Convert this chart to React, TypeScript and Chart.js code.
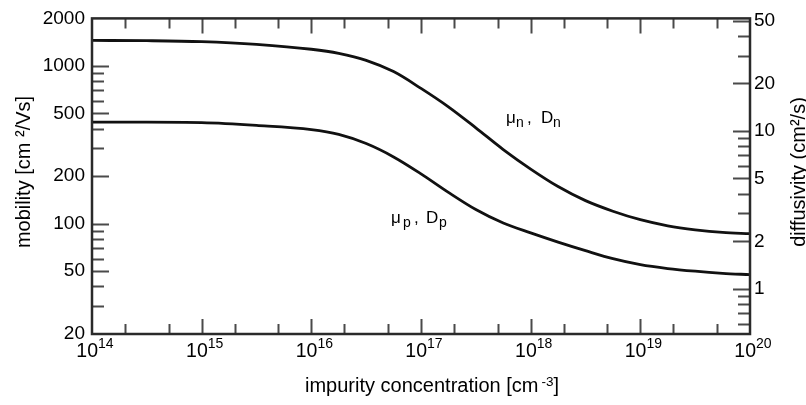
import React, { useEffect, useRef } from "react";
import { Chart, registerables } from "chart.js";

Chart.register(...registerables);

// ---- data ----
const concentrationExponents = [14, 14.5, 15, 15.5, 16, 16.25, 16.5, 16.75, 17, 17.25, 17.5, 17.75, 18, 18.25, 18.5, 18.75, 19, 19.25, 19.5, 19.75, 20];
const electronMobility = [1450, 1445, 1425, 1370, 1275, 1200, 1085, 920, 720, 550, 405, 295, 222, 172, 140, 120, 106, 97, 91.5, 88, 86.5];
const holeMobility = [440, 440, 437, 420, 395, 368, 322, 265, 207, 158, 123, 101, 87.5, 76.5, 67.5, 60, 55, 52, 50, 48.5, 47.5];

const xLabelExponents = [14, 15, 16, 17, 18, 19, 20];
const mobilityTickLabels = [20, 50, 100, 200, 500, 1000, 2000];
const diffusivityTickLabels = [1, 2, 5, 10, 20, 50];
const mobilityMin = 20;
const mobilityMax = 2000;
const thermalVoltage = 0.02585; // kT/q in V, D = mu * kT/q

const FONT = '"Liberation Sans", Arial, Helvetica, sans-serif';

function logTickValues(min: number, max: number) {
  const out: { v: number; major: boolean }[] = [];
  for (let k = Math.floor(Math.log10(min)) - 1; k <= Math.ceil(Math.log10(max)); k++) {
    for (let m = 1; m <= 9; m++) {
      const v = m * Math.pow(10, k);
      if (v >= min * 1.0001 && v <= max * 0.9999) out.push({ v, major: m === 1 || m === 2 || m === 5 });
    }
  }
  return out;
}

const framePlugin = {
  id: "frameAndLabels",
  afterDraw(chart: any) {
    const { ctx, chartArea } = chart;
    const { left, right, top, bottom } = chartArea;
    const xs = chart.scales.x;
    const ys = chart.scales.y;
    const y2 = chart.scales.y2;
    ctx.save();

    // ticks
    ctx.strokeStyle = "#4a4a4a";
    ctx.lineWidth = 2;
    ctx.beginPath();
    for (const t of logTickValues(ys.min, ys.max)) {
      const py = Math.round(ys.getPixelForValue(t.v)) + 0.5;
      const len = t.major ? 17 : 12;
      ctx.moveTo(left, py);
      ctx.lineTo(left + len, py);
    }
    for (const t of logTickValues(y2.min, y2.max)) {
      const py = Math.round(y2.getPixelForValue(t.v)) + 0.5;
      const len = t.major ? 17 : 12;
      ctx.moveTo(right, py);
      ctx.lineTo(right - len, py);
    }
    for (let e = 14; e <= 20; e++) {
      for (const m of [1, 2, 5]) {
        const v = m * Math.pow(10, e);
        if (v <= xs.min || v >= xs.max) continue;
        const px = Math.round(xs.getPixelForValue(v)) + 0.5;
        const len = m === 1 ? 15 : 10;
        ctx.moveTo(px, top);
        ctx.lineTo(px, top + len);
        ctx.moveTo(px, bottom);
        ctx.lineTo(px, bottom - len);
      }
    }
    ctx.stroke();

    // frame
    ctx.strokeStyle = "#2a2a2a";
    ctx.lineWidth = 2.5;
    ctx.strokeRect(left, top, right - left, bottom - top);

    // x tick labels 10^n
    ctx.fillStyle = "#000";
    ctx.textBaseline = "alphabetic";
    ctx.textAlign = "left";
    const baseFont = `19.5px ${FONT}`;
    const supFont = `14px ${FONT}`;
    for (const e of xLabelExponents) {
      const px = xs.getPixelForValue(Math.pow(10, e));
      ctx.font = baseFont;
      const wb = ctx.measureText("10").width;
      ctx.font = supFont;
      const ws = ctx.measureText(String(e)).width;
      const start = px + 3 - (wb + ws) / 2;
      ctx.font = baseFont;
      ctx.fillText("10", start, 357);
      ctx.font = supFont;
      ctx.fillText(String(e), start + wb, 348);
    }

    // x title with superscript
    {
      const main = "impurity concentration [cm";
      const sup = "-3";
      const titleFont = `20px ${FONT}`;
      ctx.font = titleFont;
      const wm = ctx.measureText(main).width;
      const wc = ctx.measureText("]").width;
      ctx.font = `13.5px ${FONT}`;
      const wsup = ctx.measureText(sup).width;
      const gap = 3;
      const total = wm + gap + wsup + wc;
      const start = 432 - total / 2;
      ctx.font = titleFont;
      ctx.fillText(main, start, 392);
      ctx.font = `13.5px ${FONT}`;
      ctx.fillText(sup, start + wm + gap, 386);
      ctx.font = titleFont;
      ctx.fillText("]", start + wm + gap + wsup, 392);
    }

    // y titles (rotated)
    ctx.font = `20px ${FONT}`;
    ctx.textAlign = "center";
    ctx.save();
    ctx.translate(30, 172);
    ctx.rotate(-Math.PI / 2);
    ctx.fillText("mobility [cm \u00B2/Vs]", 0, 0);
    ctx.restore();
    ctx.save();
    ctx.translate(805, 172);
    ctx.rotate(-Math.PI / 2);
    ctx.fillText("diffusivity (cm\u00B2/s)", 0, 0);
    ctx.restore();

    // curve annotations
    ctx.textAlign = "left";
    const drawLabel = (base: number, sub: string, pos: number[]) => {
      ctx.font = `17px ${FONT}`;
      ctx.fillText("\u03BC", pos[0], base);
      ctx.font = `14px ${FONT}`;
      ctx.fillText(sub, pos[1], base + 4);
      ctx.font = `17px ${FONT}`;
      ctx.fillText(",", pos[2], base);
      ctx.fillText("D", pos[3], base);
      ctx.font = `14px ${FONT}`;
      ctx.fillText(sub, pos[4], base + 4);
    };
    drawLabel(123, "n", [506, 516, 527, 541, 553]);
    drawLabel(223, "p", [391, 403, 414, 426, 439]);

    ctx.restore();
  },
};

export default function App() {
  const canvasRef = useRef<HTMLCanvasElement>(null);

  useEffect(() => {
    const canvas = canvasRef.current;
    if (!canvas) return;
    const toPoints = (vals: number[]) => concentrationExponents.map((e, i) => ({ x: Math.pow(10, e), y: vals[i] }));
    const chart = new Chart(canvas, {
      type: "line",
      data: {
        datasets: [
          {
            label: "\u03BCn, Dn",
            data: toPoints(electronMobility),
            borderColor: "#111",
            borderWidth: 2.8,
            pointRadius: 0,
            cubicInterpolationMode: "monotone",
            yAxisID: "y",
          },
          {
            label: "\u03BCp, Dp",
            data: toPoints(holeMobility),
            borderColor: "#111",
            borderWidth: 2.8,
            pointRadius: 0,
            cubicInterpolationMode: "monotone",
            yAxisID: "y",
          },
        ],
      },
      options: {
        animation: false,
        responsive: true,
        maintainAspectRatio: false,
        layout: { padding: { top: 14, left: 0, right: 0, bottom: 0 } },
        plugins: { legend: { display: false }, tooltip: { enabled: false } },
        scales: {
          x: {
            type: "logarithmic",
            min: 1e14,
            max: 1e20,
            grid: { display: false, drawTicks: false },
            border: { display: false },
            ticks: { display: false },
            afterFit: (s: any) => {
              s.height = 71;
            },
          },
          y: {
            type: "logarithmic",
            position: "left",
            min: mobilityMin,
            max: mobilityMax,
            grid: { display: false, drawTicks: false },
            border: { display: false },
            afterBuildTicks: (s: any) => {
              s.ticks = mobilityTickLabels.map((v) => ({ value: v }));
            },
            ticks: {
              autoSkip: false,
              padding: 7,
              color: "#000",
              font: { family: FONT, size: 19 },
              callback: (v: any) => String(v),
            },
            afterFit: (s: any) => {
              s.width = 92;
            },
          },
          y2: {
            type: "logarithmic",
            position: "right",
            min: mobilityMin * thermalVoltage,
            max: mobilityMax * thermalVoltage,
            grid: { display: false, drawTicks: false },
            border: { display: false },
            afterBuildTicks: (s: any) => {
              s.ticks = diffusivityTickLabels.map((v) => ({ value: v }));
            },
            ticks: {
              autoSkip: false,
              padding: 4,
              color: "#000",
              font: { family: FONT, size: 19 },
              callback: (v: any) => String(v),
            },
            afterFit: (s: any) => {
              s.width = 56;
            },
          },
        },
      } as any,
      plugins: [framePlugin],
    } as any);
    return () => chart.destroy();
  }, []);

  return (
    <div style={{ position: "fixed", left: 0, top: 0, width: 806, height: 405, background: "#fff" }}>
      <canvas ref={canvasRef} />
    </div>
  );
}
